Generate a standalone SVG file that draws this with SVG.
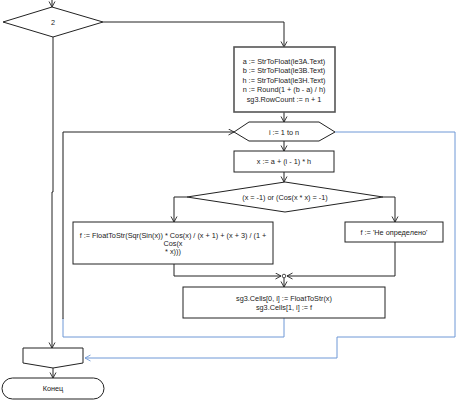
<svg xmlns="http://www.w3.org/2000/svg" width="458" height="403" viewBox="0 0 458 403">
<style>
.n{fill:#fff;stroke:#222;stroke-width:1}
.sh{fill:#fff;stroke:#555;stroke-width:1.6}
.t{font-family:"Liberation Sans",Arial,sans-serif;font-size:7.3px;fill:#222;text-anchor:middle}
.c{fill:none;stroke:#222;stroke-width:1}
.b{fill:none;stroke:#6f98d6;stroke-width:1}
.g{fill:none;stroke:#666;stroke-width:1.5}
</style>
<defs>
<marker id="a" markerWidth="8" markerHeight="8" refX="6" refY="3.5" orient="auto" markerUnits="userSpaceOnUse">
<path d="M0.5,0.5 L6,3.5 L0.5,6.5" fill="none" stroke="#222" stroke-width="0.9"/>
</marker>
<marker id="ab" markerWidth="8" markerHeight="8" refX="6" refY="3.5" orient="auto" markerUnits="userSpaceOnUse">
<path d="M0.5,0.5 L6,3.5 L0.5,6.5" fill="none" stroke="#6f98d6" stroke-width="0.9"/>
</marker>
</defs>
<g id="connectors">
<path class="c" d="M52,0 V7" marker-end="url(#a)"/>
<path class="c" d="M103,22 H284 V47" marker-end="url(#a)"/>
<path class="c" d="M284,112 V122" marker-end="url(#a)"/>
<path class="c" d="M284,141 V151" marker-end="url(#a)"/>
<path class="c" d="M284,172 V182" marker-end="url(#a)"/>
<path class="c" d="M187,197 H174 V222" marker-end="url(#a)"/>
<path class="c" d="M383,197 H395 V222" marker-end="url(#a)"/>
<path class="c" d="M174,264 V276 H281" marker-end="url(#a)"/>
<path class="c" d="M395,242 V276 H287" marker-end="url(#a)"/>
<circle cx="284" cy="276" r="1.8" fill="#fff" stroke="#222" stroke-width="0.8"/>
<path class="c" d="M284,278 V287" marker-end="url(#a)"/>
<path class="b" d="M284,318 V337 H63 V318"/>
<path class="g" d="M63,319 V132"/>
<path class="c" d="M63,132 H234" marker-end="url(#a)"/>
<path class="b" d="M335,132 H455 V337 H337 V358 H85" marker-end="url(#ab)"/>
<path class="c" d="M53,37 V192 H52 V348" marker-end="url(#a)"/>
<path class="c" d="M53,368 V378" marker-end="url(#a)"/>
</g>
<g id="cond2">
<polygon class="n" points="3,22 52,7 103,22 53,37"/>
<text class="t" x="53" y="25">2</text>
</g>
<g id="init">
<rect class="sh" x="234" y="47" width="101" height="65"/>
<text class="t" x="284" y="63.5">a := StrToFloat(le3A.Text)</text>
<text class="t" x="284" y="73">b := StrToFloat(le3B.Text)</text>
<text class="t" x="284" y="82.5">h := StrToFloat(le3H.Text)</text>
<text class="t" x="284" y="92">n := Round(1 + (b - a) / h)</text>
<text class="t" x="284" y="101.5">sg3.RowCount := n + 1</text>
</g>
<g id="loop">
<polygon class="n" points="234,132 249,122 319,122 335,132 319,141 249,141"/>
<text class="t" x="284" y="134.5">i := 1 to n</text>
</g>
<g id="calcx">
<rect class="n" x="234" y="151" width="100" height="21"/>
<text class="t" x="284" y="164">x := a + (i - 1) * h</text>
</g>
<g id="cond">
<polygon class="n" points="187,197 285,182 383,197 285,212"/>
<text class="t" x="285" y="199.5">(x = -1) or (Cos(x * x) = -1)</text>
</g>
<g id="calcf">
<rect class="n" x="73" y="222" width="200" height="42"/>
<text class="t" x="173" y="237.5">f := FloatToStr(Sqr(Sin(x)) * Cos(x) / (x + 1) + (x + 3) / (1 +</text>
<text class="t" x="173" y="245.5">Cos(x</text>
<text class="t" x="173" y="253.5">* x)))</text>
</g>
<g id="undef">
<rect class="n" x="345" y="222" width="98" height="20"/>
<text class="t" x="394" y="234.5">f := 'Не определено'</text>
</g>
<g id="cells">
<rect class="n" x="183" y="287" width="202" height="31"/>
<text class="t" x="284" y="300.5">sg3.Cells[0, i] := FloatToStr(x)</text>
<text class="t" x="284" y="310">sg3.Cells[1, i] := f</text>
</g>
<g id="loopend">
<polygon class="n" points="23,348 83,348 83,363 53,368 23,363"/>
</g>
<g id="end">
<rect class="n" x="2" y="378" width="102" height="21" rx="10.5"/>
<text class="t" x="53" y="391">Конец</text>
</g>
</svg>
